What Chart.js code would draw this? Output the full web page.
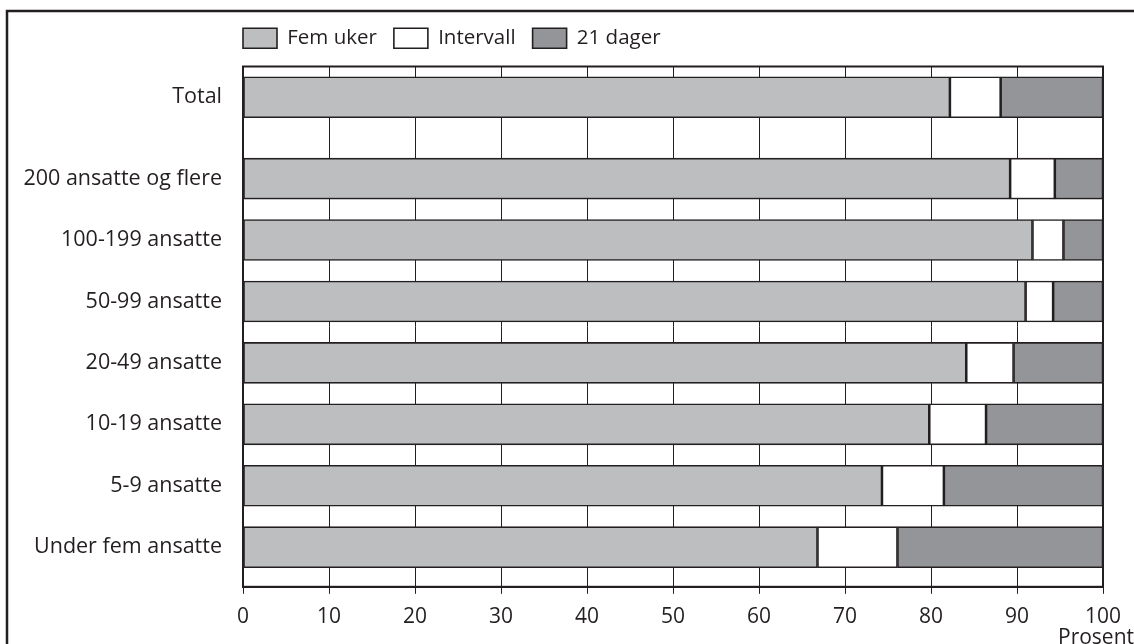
<!DOCTYPE html>
<html>
<head>
<meta charset="utf-8">
<script src="https://cdn.jsdelivr.net/npm/chart.js@4.4.1/dist/chart.umd.min.js"></script>
<style>
html,body{margin:0;padding:0;background:#fff;}
</style>
</head>
<body>
<canvas id="chart" width="1134" height="644"></canvas>
<script>
// kategorier, ovenfra og ned
var categories = ['Total', '200 ansatte og flere', '100-199 ansatte', '50-99 ansatte', '20-49 ansatte', '10-19 ansatte', '5-9 ansatte', 'Under fem ansatte'];
var femUker   = [82.2, 89.2, 91.8, 91.0, 84.1, 79.8, 74.3, 66.8];
var intervall = [5.9, 5.2, 3.6, 3.2, 5.5, 6.6, 7.2, 9.3];
var dager21   = [11.9, 5.6, 4.6, 5.8, 10.4, 13.6, 18.5, 23.9];
var xTicks = [0, 10, 20, 30, 40, 50, 60, 70, 80, 90, 100];
var xTitle = 'Prosent';

const INK = '#231f20';
const FONT = "'Open Sans', 'DejaVu Sans', sans-serif";

// ekstra luft under Total-raden
const GAP = 0.325;
const rowPos = categories.map((c, i) => i === 0 ? 0 : i + GAP);

const toPoints = (arr) => arr.map((v, i) => ({x: v, y: rowPos[i]}));

var barOpts = {
borderColor: INK,
borderWidth: 1.6,
borderSkipped: false,
barThickness: 41
};

// ramme rundt hele figuren (bare topp og venstre synes)
const framePlugin = {
id: 'frame',
beforeDraw(chart) {
const ctx = chart.ctx;
ctx.save();
ctx.fillStyle = '#fff';
ctx.fillRect(0, 0, chart.width, chart.height);
ctx.strokeStyle = INK;
ctx.lineWidth = 2.5;
ctx.beginPath();
ctx.moveTo(chart.width, 11);
ctx.lineTo(7, 11);
ctx.lineTo(7, chart.height);
ctx.stroke();
ctx.restore();
},
afterDatasetsDraw(chart) {
const a = chart.chartArea;
const ctx = chart.ctx;
ctx.save();
ctx.strokeStyle = INK;
ctx.lineWidth = 2;
ctx.strokeRect(a.left, a.top, a.right - a.left, a.bottom - a.top);
ctx.restore();
},
afterDraw(chart) {
const ctx = chart.ctx;
const xs = chart.scales.x;
ctx.save();
ctx.fillStyle = INK;
ctx.font = '21px ' + FONT;
ctx.textAlign = 'left';
ctx.textBaseline = 'alphabetic';
ctx.fillText(xTitle, xs.getPixelForValue(100) - 45, 644);
ctx.restore();
}
};

// legenden skal starte ved plottets venstre kant, og litt hoyere
const legendShift = {
id: 'legendShift',
afterLayout(chart) {
chart.legend.left -= chart.legend.options.labels.padding;
chart.legend.top -= 8;
}
};

new Chart(document.getElementById('chart'), {
type: 'bar',
data: {
datasets: [
{label: 'Fem uker', data: toPoints(femUker), backgroundColor: '#bcbec0', ...barOpts},
{label: 'Intervall', data: toPoints(intervall), backgroundColor: '#ffffff', ...barOpts},
{label: '21 dager', data: toPoints(dager21), backgroundColor: '#939598', ...barOpts}
]
},
options: {
indexAxis: 'y',
responsive: false,
animation: false,
devicePixelRatio: 1,
layout: {padding: {top: 19, left: 10, right: 31, bottom: 3}},
plugins: {
legend: {
position: 'top',
align: 'start',
fullSize: false,
labels: {
color: INK,
font: {family: FONT, size: 20.5},
boxWidth: 34,
boxHeight: 20,
padding: 17
}
},
tooltip: {enabled: false}
},
scales: {
x: {
type: 'linear',
stacked: true,
min: 0,
max: 100,
afterBuildTicks: (s) => { s.ticks = xTicks.map(v => ({value: v})); },
ticks: {color: INK, font: {family: FONT, size: 21}, padding: 11},
grid: {color: INK, lineWidth: 1, tickLength: 7},
border: {color: INK, width: 2}
},
y: {
type: 'linear',
stacked: true,
reverse: true,
offset: false,
min: -0.5,
max: 7.97,
afterBuildTicks: (s) => { s.ticks = rowPos.map(v => ({value: v})); },
afterFit: (s) => { s.width = 233; },
ticks: {
color: INK,
font: {family: FONT, size: 21.5},
padding: 13,
autoSkip: false,
callback: (v, i) => categories[i]
},
grid: {display: false, offset: false},
border: {color: INK, width: 2}
}
}
},
plugins: [framePlugin, legendShift]
});
</script>
</body>
</html>
